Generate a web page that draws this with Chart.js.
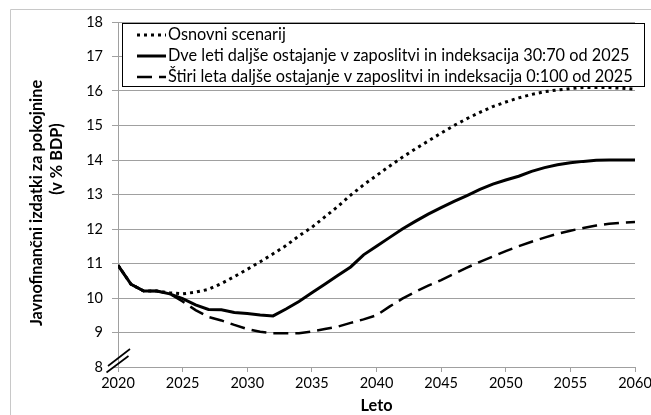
<!DOCTYPE html>
<html><head><meta charset="utf-8">
<script src="https://cdn.jsdelivr.net/npm/chart.js@4/dist/chart.umd.min.js"></script>
<style>html,body{margin:0;padding:0;background:#fff;}#wrap{width:651px;height:415px;position:relative;}</style>
</head><body><div id="wrap"><canvas id="c"></canvas></div>
<script>
const years = [2020,2021,2022,2023,2024,2025,2026,2027,2028,2029,2030,2031,2032,2033,2034,2035,2036,2037,2038,2039,2040,2041,2042,2043,2044,2045,2046,2047,2048,2049,2050,2051,2052,2053,2054,2055,2056,2057,2058,2059,2060];
const osnovni = [10.95,10.4,10.2,10.2,10.15,10.12,10.17,10.25,10.42,10.62,10.83,11.05,11.28,11.52,11.8,12.05,12.35,12.65,12.98,13.28,13.55,13.82,14.08,14.32,14.55,14.78,15.0,15.2,15.38,15.55,15.68,15.8,15.9,15.98,16.03,16.07,16.1,16.1,16.1,16.08,16.05];
const dveLeti = [10.95,10.4,10.2,10.2,10.12,9.98,9.8,9.67,9.66,9.58,9.55,9.51,9.48,9.68,9.9,10.15,10.4,10.65,10.9,11.25,11.5,11.75,12.0,12.22,12.43,12.62,12.8,12.97,13.15,13.3,13.42,13.53,13.67,13.78,13.86,13.92,13.96,13.99,14.0,14.0,14.0];
const stiriLeta = [10.95,10.4,10.2,10.2,10.12,9.9,9.65,9.45,9.35,9.22,9.1,9.02,8.98,8.98,8.98,9.03,9.1,9.17,9.28,9.38,9.5,9.75,9.98,10.18,10.36,10.52,10.7,10.88,11.05,11.2,11.36,11.5,11.63,11.75,11.86,11.95,12.03,12.1,12.15,12.18,12.2];
const seriesLabels = ["Osnovni scenarij","Dve leti daljše ostajanje v zaposlitvi in indeksacija 30:70 od 2025","Štiri leta daljše ostajanje v zaposlitvi in indeksacija 0:100 od 2025"];
const yTitle1 = "Javnofinančni izdatki za pokojnine";
const yTitle2 = "(v % BDP)";
const xTitle = "Leto";
const FONT = "Lato, 'Open Sans', sans-serif";

const pts = arr => years.map((y,i)=>({x:y,y:arr[i]}));
const styles = [
  {borderDash:[3,4], borderWidth:3},
  {borderDash:[], borderWidth:3},
  {borderDash:[15,7], borderWidth:2.5}
];

const deco = {
  id:'deco',
  beforeDraw(chart){
    const ctx = chart.ctx;
    ctx.save();
    ctx.strokeStyle = '#c8c8c8'; ctx.lineWidth = 1;
    ctx.beginPath(); ctx.moveTo(10.5,415); ctx.lineTo(10.5,9.5); ctx.lineTo(651,9.5); ctx.stroke();
    ctx.restore();
  },
  afterDraw(chart){
    const ctx = chart.ctx;
    const ca = chart.chartArea;
    ctx.save();
    // axis break marks
    ctx.strokeStyle = '#000'; ctx.lineWidth = 1.6;
    ctx.beginPath(); ctx.moveTo(108,366); ctx.lineTo(130,349); ctx.stroke();
    ctx.beginPath(); ctx.moveTo(106.5,372.5); ctx.lineTo(128.5,356); ctx.stroke();
    // titles
    ctx.fillStyle = '#000';
    ctx.font = "bold 16.3px " + FONT;
    ctx.textAlign = 'center'; ctx.textBaseline = 'middle';
    ctx.fillText(xTitle, (ca.left+ca.right)/2, 406);
    ctx.save(); ctx.translate(37,203); ctx.rotate(-Math.PI/2); ctx.fillText(yTitle1,0,0); ctx.restore();
    ctx.save(); ctx.translate(57,159); ctx.rotate(-Math.PI/2); ctx.fillText(yTitle2,0,0); ctx.restore();
    // legend
    const L=122, T=23, R=645, B=87;
    ctx.fillStyle='#fff'; ctx.fillRect(L,T,R-L,B-T);
    ctx.strokeStyle='#000'; ctx.lineWidth=1; ctx.setLineDash([]);
    ctx.strokeRect(L+0.5,T+0.5,R-L-1,B-T-1);
    const rows=[35,56,77];
    chart.data.datasets.forEach((ds,i)=>{
      const y = rows[i];
      ctx.save();
      ctx.strokeStyle='#000'; ctx.lineWidth=ds.borderWidth; ctx.setLineDash(ds.borderDash||[]);
      ctx.beginPath(); ctx.moveTo(137,y); ctx.lineTo(166,y); ctx.stroke();
      ctx.restore();
      ctx.fillStyle='#000'; ctx.font = "16.3px " + FONT; ctx.textAlign='left'; ctx.textBaseline='middle';
      ctx.fillText(ds.label,168,y);
    });
    ctx.restore();
  }
};

new Chart(document.getElementById('c'), {
  type:'line',
  data:{ datasets: [
    {label:seriesLabels[0], data:pts(osnovni), borderColor:'#000', ...styles[0], pointRadius:0, tension:0, fill:false},
    {label:seriesLabels[1], data:pts(dveLeti), borderColor:'#000', ...styles[1], pointRadius:0, tension:0, fill:false},
    {label:seriesLabels[2], data:pts(stiriLeta), borderColor:'#000', ...styles[2], pointRadius:0, tension:0, fill:false}
  ]},
  options:{
    responsive:true, maintainAspectRatio:false, animation:false,
    layout:{padding:{left:0,right:0,top:22,bottom:0}},
    plugins:{legend:{display:false}, tooltip:{enabled:false}},
    scales:{
      x:{type:'linear', min:2020, max:2060,
        ticks:{stepSize:5, color:'#000', font:{family:FONT,size:14.5}, padding:3, callback:v=>String(v), maxRotation:0},
        grid:{drawOnChartArea:false, drawTicks:true, tickLength:5, color:'#a0a0a0'},
        border:{color:'#a0a0a0'},
        afterFit:s=>{s.height=48; s.paddingLeft=0; s.paddingRight=16;}
      },
      y:{min:8, max:18,
        ticks:{stepSize:1, color:'#000', font:{family:FONT,size:14.5}, padding:9},
        grid:{color:'#a0a0a0', tickLength:6},
        border:{color:'#a0a0a0'},
        afterFit:s=>{s.width=118;}
      }
    }
  },
  plugins:[deco]
});
</script></body></html>
